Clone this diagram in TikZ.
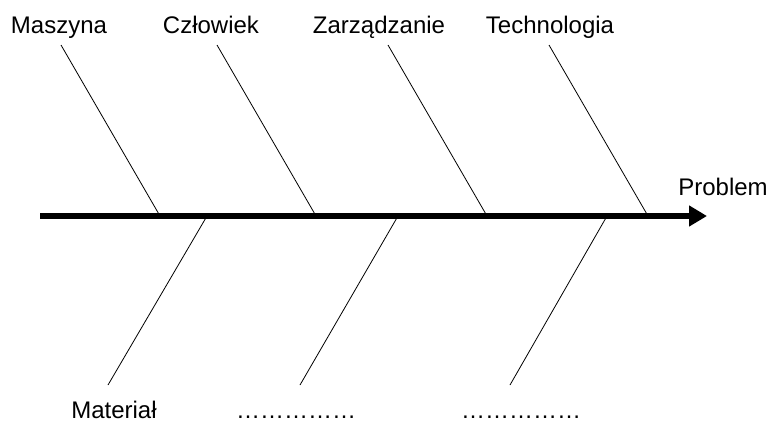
\documentclass[tikz,border=0pt]{standalone}
\usepackage{fontspec}
\setmainfont{Liberation Sans}
\usetikzlibrary{arrows.meta}
\begin{document}
\begin{tikzpicture}[x=1pt,y=-1pt,
  label/.style={inner sep=0pt,anchor=base,font=\fontsize{24}{28}\selectfont},
  spine/.style={line width=6pt,-{Triangle[length=18pt,width=20pt]}},
  bone/.style={line width=0.8pt}]
  \useasboundingbox[fill=white] (0,0) rectangle (770,423);

  % main axis
  \coordinate (tail) at (40,216);
  \coordinate (head) at (707,216);
  \draw[spine] (tail) -- (head);

  % category labels
  \node[label] (maszyna) at (59,33) {Maszyna};
  \node[label] (czlowiek) at (211,33) {Człowiek};
  \node[label] (zarzadzanie) at (379,33) {Zarządzanie};
  \node[label] (technologia) at (550,33) {Technologia};
  \node[label] (problem) at (723,195) {Problem};
  \node[label] (material) at (114,418) {Materiał};
  \node[label] (dots1) at (296,418) {……………};
  \node[label] (dots2) at (521,418) {……………};

  % upper bones
  \coordinate (m1) at (61,45);   \coordinate (m2) at (160,216);
  \coordinate (c1) at (217,45);  \coordinate (c2) at (316,216);
  \coordinate (z1) at (388,45);  \coordinate (z2) at (487,216);
  \coordinate (t1) at (549,45);  \coordinate (t2) at (648,216);
  \draw[bone] (m1) -- (m2);
  \draw[bone] (c1) -- (c2);
  \draw[bone] (z1) -- (z2);
  \draw[bone] (t1) -- (t2);

  % lower bones
  \coordinate (a1) at (207,216); \coordinate (a2) at (108,385);
  \coordinate (b1) at (398,216); \coordinate (b2) at (300,385);
  \coordinate (d1) at (607,216); \coordinate (d2) at (510,385);
  \draw[bone] (a1) -- (a2);
  \draw[bone] (b1) -- (b2);
  \draw[bone] (d1) -- (d2);
\end{tikzpicture}
\end{document}
